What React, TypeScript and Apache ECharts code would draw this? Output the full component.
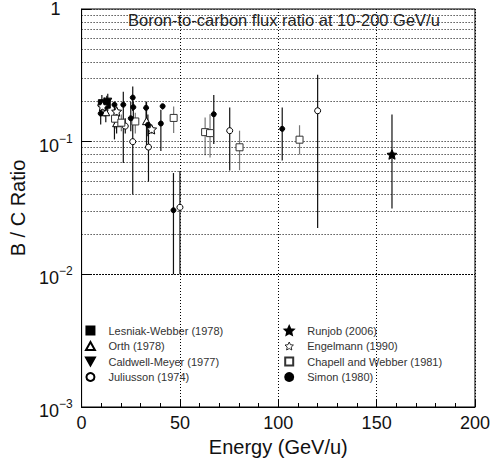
import React, { useEffect, useRef } from "react";
import * as echarts from "echarts";

// [energy GeV/u, B/C ratio, error low, error high]
const lesniakWebber = [
  [10.3, 0.195, 0.165, 0.225],
  [12.8, 0.19, 0.16, 0.222],
];
const orth = [
  [12.3, 0.167, 0.14, 0.2],
  [17.8, 0.138, 0.115, 0.16],
  [33.0, 0.143, 0.088, 0.2],
];
const caldwellMeyer = [
  [11.5, 0.185, 0.155, 0.215],
  [13.3, 0.2, 0.17, 0.23],
];
const juliusson = [
  [22.2, 0.131, 0.115, 0.15],
  [26.0, 0.1, 0.04, 0.14],
  [34.0, 0.091, 0.05, 0.13],
  [50.0, 0.032, 0.01, 0.06],
  [75.3, 0.121, 0.0606, 0.181],
  [120.0, 0.171, 0.0223, 0.32],
];
const runjob = [[157.8, 0.08, 0.0314, 0.16]];
const engelmann = [
  [10.6, 0.185, 0.175, 0.195],
  [17.8, 0.169, 0.16, 0.178],
  [35.6, 0.124, 0.115, 0.131],
];
const chapellWebber = [
  [17.0, 0.149, 0.125, 0.175],
  [20.2, 0.139, 0.12, 0.16],
  [27.3, 0.142, 0.115, 0.165],
  [46.8, 0.151, 0.116, 0.184],
  [62.8, 0.118, 0.079, 0.152],
  [65.3, 0.116, 0.076, 0.161],
  [80.3, 0.0907, 0.061, 0.121],
  [110.8, 0.1035, 0.08, 0.133],
];
const simon = [
  [9.7, 0.163, 0.135, 0.2],
  [16.7, 0.19, 0.104, 0.2],
  [21.2, 0.19, 0.069, 0.238],
  [25.0, 0.15, 0.12, 0.2],
  [26.0, 0.215, 0.17, 0.26],
  [26.3, 0.182, 0.14, 0.2],
  [32.8, 0.18, 0.15, 0.2],
  [33.7, 0.134, 0.11, 0.16],
  [40.3, 0.137, 0.085, 0.174],
  [41.2, 0.185, 0.175, 0.19],
  [46.7, 0.0304, 0.01, 0.058],
  [67.2, 0.161, 0.096, 0.225],
  [102.0, 0.125, 0.072, 0.181],
];

const minorGridValues = [
  0.002, 0.003, 0.004, 0.005, 0.006, 0.007, 0.008, 0.009,
  0.02, 0.03, 0.04, 0.05, 0.06, 0.07, 0.08, 0.09,
  0.2, 0.3, 0.4, 0.5, 0.6, 0.7, 0.8, 0.9,
];

const legendLeft = [
  "Lesniak-Webber (1978)",
  "Orth (1978)",
  "Caldwell-Meyer (1977)",
  "Juliusson (1974)",
];
const legendRight = [
  "Runjob (2006)",
  "Engelmann (1990)",
  "Chapell and Webber (1981)",
  "Simon (1980)",
];

const STAR =
  "path://M0,-10 L2.8,-3.9 L9.51,-3.09 L4.5,1.5 L5.88,8.09 L0,4.8 L-5.88,8.09 L-4.5,1.5 L-9.51,-3.09 L-2.8,-3.9 Z";
const INV_TRI = "path://M0,0 L10,0 L5,9 Z";
const SQUARE = "path://M0,0 L10,0 L10,10 L0,10 Z";
const TRI = "path://M5,0 L10,9 L0,9 Z";

const FONT = "Liberation Sans, Arial, Helvetica, sans-serif";
const dotted = { type: [1, 2] as any, color: "#000", width: 1 };

export default function App() {
  const ref = useRef<HTMLDivElement>(null);

  useEffect(() => {
    if (!ref.current) return;
    const chart = echarts.init(ref.current, undefined, { renderer: "svg" });

    const groups = [
      { name: legendLeft[0], data: lesniakWebber, symbol: SQUARE, size: 7, fill: "#000", stroke: "#000", bar: "#111" },
      { name: legendLeft[1], data: orth, symbol: TRI, size: 8, fill: "#fff", stroke: "#000", bar: "#111" },
      { name: legendLeft[2], data: caldwellMeyer, symbol: INV_TRI, size: 8, fill: "#000", stroke: "#000", bar: "#111" },
      { name: legendLeft[3], data: juliusson, symbol: "circle", size: 6, fill: "#fff", stroke: "#000", bar: "#111" },
      { name: legendRight[0], data: runjob, symbol: STAR, size: 10, fill: "#000", stroke: "#000", bar: "#111" },
      { name: legendRight[1], data: engelmann, symbol: STAR, size: 10, fill: "#fff", stroke: "#000", bar: "#111" },
      { name: legendRight[2], data: chapellWebber, symbol: SQUARE, size: 7, fill: "#fff", stroke: "#333", bar: "#777" },
      { name: legendRight[3], data: simon, symbol: "circle", size: 5, fill: "#000", stroke: "#000", bar: "#111" },
    ];

    const barColors = groups.map((g) => g.bar);
    const errData: number[][] = [];
    groups.forEach((g, gi) => {
      g.data.forEach((d) => errData.push([d[0], d[2], d[3], gi]));
    });

    const scatterSeries = groups.map((g, gi) => ({
      name: g.name,
      type: "scatter",
      z: 5,
      symbol: g.symbol,
      symbolSize: g.size,
      symbolKeepAspect: true,
      itemStyle: { color: g.fill, borderColor: g.stroke, borderWidth: 1, opacity: 1 },
      data: g.data.map((d) => [d[0], d[1]]),
      ...(gi === 7
        ? {
            markLine: {
              silent: true,
              symbol: ["none", "none"],
              label: { show: false },
              lineStyle: dotted,
              data: minorGridValues.map((v) => ({ yAxis: v })),
              animation: false,
            },
          }
        : {}),
    }));

    const legendCommon = {
      orient: "vertical",
      top: 325,
      itemWidth: 26,
      itemHeight: 8,
      itemGap: 4.5,
      padding: 0,
      symbolKeepAspect: true,
      selectedMode: false,
      textStyle: { fontSize: 11, color: "#333", fontFamily: FONT },
    };

    const option: any = {
      animation: false,
      textStyle: { fontFamily: FONT },
      title: {
        text: "Boron-to-carbon flux ratio at 10-200 GeV/u",
        left: 128,
        top: 11,
        padding: 0,
        textStyle: { fontSize: 16.5, fontWeight: "normal", color: "#222", fontFamily: FONT },
      },
      grid: {
        left: 76,
        right: 17,
        top: 7,
        bottom: 57,
        show: true,
        borderColor: "#000",
        borderWidth: 1,
        backgroundColor: "transparent",
      },
      legend: [
        { ...legendCommon, data: legendLeft, left: 85 },
        {
          ...legendCommon,
          data: legendRight.map((n, i) =>
            i === 1
              ? { name: n, itemStyle: { color: "#fff", borderColor: "#000", borderWidth: 0.8 } }
              : n
          ),
          left: 284,
        },
      ],
      xAxis: {
        type: "value",
        min: 0,
        max: 200,
        interval: 50,
        name: "Energy (GeV/u)",
        nameLocation: "middle",
        nameGap: 18,
        nameTextStyle: { fontSize: 20, color: "#111", fontFamily: FONT },
        axisLine: { show: true, lineStyle: { color: "#000", width: 1 } },
        axisTick: { show: true, inside: true, length: 8, lineStyle: { color: "#000" } },
        minorTick: { show: true, splitNumber: 5, length: 4, lineStyle: { color: "#000" } },
        axisLabel: { fontSize: 18, color: "#111", margin: 7, fontFamily: FONT },
        splitLine: { show: true, lineStyle: dotted },
      },
      yAxis: {
        type: "log",
        logBase: 10,
        min: 0.001,
        max: 1,
        name: "B / C Ratio",
        nameLocation: "middle",
        nameGap: 30,
        nameTextStyle: { fontSize: 20, color: "#111", fontFamily: FONT },
        axisLine: { show: true, lineStyle: { color: "#000", width: 1 } },
        axisTick: { show: true, inside: true, length: 10, lineStyle: { color: "#000" } },
        axisLabel: {
          margin: 9,
          color: "#111",
          fontFamily: FONT,
          formatter: (v: number) => {
            const e = Math.round(Math.log10(v));
            if (e === 0) return "{one|1}";
            return "{b|10}{s|\u2212" + -e + "}";
          },
          rich: {
            one: { fontSize: 18, padding: [0, 12, 0, 0], color: "#111", fontFamily: FONT },
            b: { fontSize: 18, lineHeight: 18, padding: [8, 0, 0, 0], color: "#111", fontFamily: FONT },
            s: { fontSize: 12, lineHeight: 12, verticalAlign: "top", color: "#111", fontFamily: FONT },
          },
        },
        splitLine: { show: true, lineStyle: dotted },
      },
      series: [
        {
          name: "error bars",
          type: "custom",
          z: 3,
          silent: true,
          encode: { x: 0, y: [1, 2] },
          data: errData,
          renderItem: (params: any, api: any) => {
            const x = api.value(0);
            const p1 = api.coord([x, api.value(1)]);
            const p2 = api.coord([x, api.value(2)]);
            const c = barColors[api.value(3)] || "#111";
            return {
              type: "line",
              shape: { x1: p1[0], y1: p1[1], x2: p2[0], y2: p2[1] },
              style: { stroke: c, lineWidth: 1.2 },
            };
          },
        },
        ...scatterSeries,
      ],
    };

    chart.setOption(option);
    return () => chart.dispose();
  }, []);

  return (
    <div
      ref={ref}
      style={{ position: "fixed", left: 0, top: 0, width: 493, height: 464, background: "#fff" }}
    />
  );
}
